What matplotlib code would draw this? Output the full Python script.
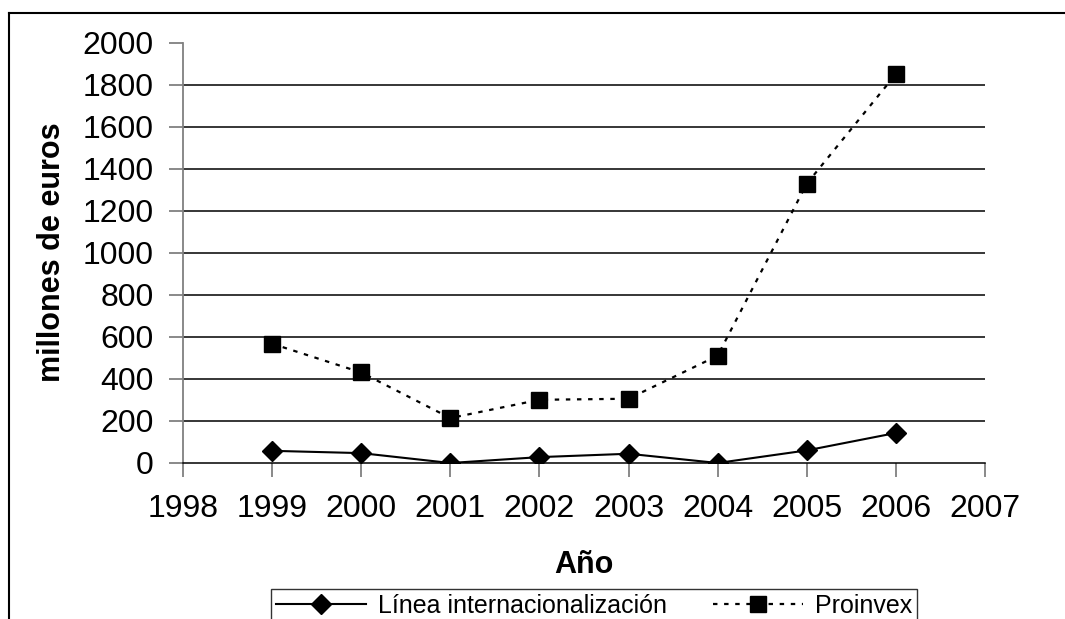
import matplotlib
matplotlib.use("Agg")
from matplotlib import pyplot as plt
from matplotlib.lines import Line2D

plt.rcParams['font.family'] = ['Liberation Sans', 'DejaVu Sans']

anios = [1999, 2000, 2001, 2002, 2003, 2004, 2005, 2006]
linea_int = [58, 47, 0, 28, 44, 0, 60, 143]
proinvex = [568, 431, 214, 301, 306, 511, 1330, 1852]

W, H = 1065, 619
fig = plt.figure(figsize=(W / 100, H / 100), dpi=100)
ax = fig.add_axes([183 / W, 1 - 463 / H, (985 - 183) / W, (463 - 43) / H])

ax.plot(anios, linea_int, color='black', linewidth=1.5, marker='D',
        markersize=10, label='Línea internacionalización')
ax.plot(anios, proinvex, color='black', linewidth=1.6, linestyle=(0, (2, 3)),
        marker='s', markersize=11.5, label='Proinvex')

ax.set_xlim(1998, 2007)
ax.set_ylim(0, 2000)
ax.set_xticks(range(1998, 2008))
ax.set_yticks(range(0, 2001, 200))

# horizontal grid, excepto arriba
for v in range(200, 2000, 200):
    ax.axhline(v, color='black', linewidth=1.1, zorder=0)

for s in ['top', 'right']:
    ax.spines[s].set_visible(False)
ax.spines['left'].set_color('#808080')
ax.spines['left'].set_linewidth(1.3)
ax.spines['bottom'].set_color('black')
ax.spines['bottom'].set_linewidth(1.1)

ax.tick_params(axis='both', direction='out', length=10, width=1.3,
               color='#808080', labelsize=23)
ax.tick_params(axis='y', pad=11)
ax.tick_params(axis='x', pad=12)

fig.text(52 / W, 1 - 252 / H, 'millones de euros', rotation=90,
         fontsize=22, fontweight='bold', ha='center', va='center')
fig.text(584 / W, 1 - 565 / H, 'Año', fontsize=22, fontweight='bold',
         ha='center', va='center')

leg = fig.legend(loc='upper left', bbox_to_anchor=(271 / W, 1 - 589 / H),
                 ncol=2, fontsize=18, frameon=True, fancybox=False,
                 edgecolor='black', handlelength=3.6, handletextpad=0.5,
                 columnspacing=1.8, borderpad=0.2, borderaxespad=0)
leg.get_frame().set_linewidth(1.0)

# borde exterior del grafico
fig.add_artist(Line2D([9 / W, 1.0], [1 - 13 / H, 1 - 13 / H],
                      color='black', linewidth=1.5, transform=fig.transFigure))
fig.add_artist(Line2D([9 / W, 9 / W], [1 - 13 / H, 0.0],
                      color='black', linewidth=1.5, transform=fig.transFigure))

fig.savefig('out.png', dpi=100)
